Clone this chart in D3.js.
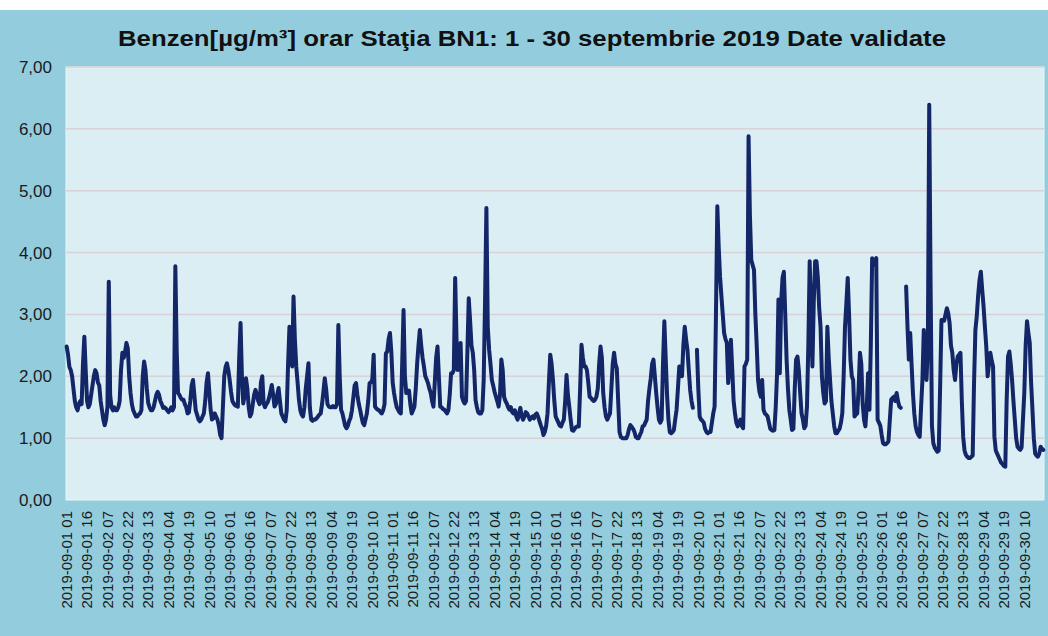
<!DOCTYPE html>
<html>
<head>
<meta charset="utf-8">
<script src="https://cdn.jsdelivr.net/npm/d3@7"></script>
<style>
  html, body { margin: 0; padding: 0; background: #fff; }
  svg { display: block; font-family: "Liberation Sans", Arial, sans-serif; }
</style>
</head>
<body>
<svg id="chart" width="1048" height="636"></svg>
<script>
(function () {
  "use strict";

  // hourly benzene values, one line per day (01..24 h)
  const days01to05 = [
    2.48, 2.35, 2.15, 2.1, 2.0, 1.8, 1.6, 1.5, 1.45, 1.55, 1.6, 1.55, 2.2, 2.64, 2.1, 1.6, 1.5, 1.55, 1.7, 1.85, 2.0, 2.1, 2.05, 1.9,
    1.85, 1.6, 1.45, 1.3, 1.21, 1.3, 1.5, 3.53, 1.7, 1.5, 1.45, 1.5, 1.45, 1.45, 1.5, 1.6, 2.1, 2.38, 2.3, 2.4, 2.54, 2.45, 2.0, 1.73,
    1.55, 1.45, 1.4, 1.35, 1.35, 1.38, 1.4, 1.45, 2.0, 2.24, 2.1, 1.8, 1.57, 1.5, 1.45, 1.45, 1.5, 1.6, 1.7, 1.75, 1.7, 1.6, 1.55, 1.49,
    1.5, 1.48, 1.45, 1.42, 1.45, 1.5, 1.45, 1.5, 3.78, 2.4, 1.73, 1.7, 1.65, 1.62, 1.62, 1.55, 1.5, 1.4, 1.42, 1.6, 1.85, 1.94, 1.7, 1.45,
    1.38, 1.3, 1.27, 1.3, 1.35, 1.4, 1.6, 1.9, 2.05, 1.75, 1.45, 1.3, 1.32, 1.4, 1.35, 1.3, 1.2, 1.05, 1.0, 1.5, 2.0, 2.15, 2.21, 2.1
  ];
  const days06to10 = [
    1.94, 1.75, 1.6, 1.56, 1.53, 1.52, 1.51, 2.3, 2.86, 2.0, 1.56, 1.7, 1.97, 1.8, 1.5, 1.35, 1.4, 1.55, 1.7, 1.78, 1.7, 1.6, 1.55, 1.9,
    2.0, 1.56, 1.5, 1.55, 1.58, 1.65, 1.75, 1.86, 1.7, 1.51, 1.55, 1.7, 1.81, 1.6, 1.4, 1.35, 1.3, 1.27, 1.45, 2.2, 2.8, 2.4, 2.16, 3.29,
    2.6, 2.16, 1.9, 1.62, 1.45, 1.38, 1.35, 1.5, 1.8, 2.0, 2.21, 1.5, 1.3, 1.28, 1.3, 1.3, 1.32, 1.35, 1.38, 1.4, 1.55, 1.75, 1.97, 1.8,
    1.55, 1.51, 1.5, 1.5, 1.52, 1.5, 1.5, 1.55, 2.83, 2.0, 1.46, 1.4, 1.3, 1.2, 1.16, 1.2, 1.28, 1.33, 1.45, 1.65, 1.85, 1.89, 1.7, 1.56,
    1.46, 1.35, 1.25, 1.21, 1.3, 1.4, 1.6, 1.89, 1.9, 1.95, 2.35, 1.51, 1.48, 1.46, 1.45, 1.42, 1.4, 1.45, 1.55, 2.37, 2.4, 2.6, 2.7, 2.4
  ];
  const days11to15 = [
    1.9, 1.73, 1.6, 1.5, 1.46, 1.42, 1.4, 2.2, 3.07, 2.0, 1.73, 1.75, 1.77, 1.55, 1.4, 1.45, 1.51, 1.8, 2.2, 2.5, 2.75, 2.5, 2.3, 2.16,
    2.0, 1.95, 1.89, 1.8, 1.73, 1.6, 1.51, 1.9, 2.3, 2.48, 2.0, 1.51, 1.5, 1.47, 1.46, 1.43, 1.4, 1.45, 1.7, 2.05, 2.05, 2.1, 3.59, 2.6,
    2.1, 2.3, 2.54, 1.67, 1.6, 1.56, 1.6, 2.4, 3.26, 2.9, 2.5, 2.38, 2.1, 1.62, 1.5, 1.42, 1.4, 1.4, 1.45, 1.94, 3.2, 4.72, 2.8, 2.43,
    2.2, 1.94, 1.85, 1.75, 1.67, 1.6, 1.51, 1.7, 2.27, 2.1, 1.67, 1.6, 1.56, 1.5, 1.46, 1.5, 1.42, 1.4, 1.45, 1.35, 1.3, 1.4, 1.49, 1.35,
    1.3, 1.35, 1.42, 1.4, 1.35, 1.3, 1.33, 1.35, 1.32, 1.38, 1.4, 1.35, 1.28, 1.21, 1.15, 1.05, 1.1, 1.2, 1.4, 1.9, 2.35, 2.2, 1.94, 1.6
  ];
  const days16to20 = [
    1.35, 1.3, 1.25, 1.2, 1.19, 1.25, 1.3, 1.6, 2.02, 1.7, 1.51, 1.3, 1.13, 1.12, 1.15, 1.18, 1.19, 1.19, 1.8, 2.51, 2.3, 2.16, 2.16, 2.1,
    1.9, 1.67, 1.65, 1.62, 1.6, 1.62, 1.67, 1.8, 2.2, 2.48, 2.3, 1.73, 1.5, 1.35, 1.3, 1.35, 1.4, 1.8, 2.2, 2.38, 2.2, 2.13, 1.6, 1.1,
    1.02, 1.0, 1.0, 1.0, 1.0, 1.05, 1.15, 1.21, 1.18, 1.15, 1.1, 1.02, 1.0, 1.0, 1.05, 1.1, 1.19, 1.2, 1.25, 1.3, 1.6, 1.8, 1.97, 2.2,
    2.27, 2.0, 1.73, 1.5, 1.3, 1.25, 1.3, 2.2, 2.89, 2.3, 1.7, 1.3, 1.1, 1.08, 1.1, 1.13, 1.3, 1.46, 1.8, 2.16, 2.16, 2.0, 2.5, 2.8,
    2.6, 2.43, 2.1, 1.78, 1.6, 1.49, null, null, 2.43, 1.8, 1.35, 1.3, 1.28, 1.25, 1.15, 1.1, 1.08, 1.1, 1.1, 1.25, 1.4, 1.51, 3.0, 4.75
  ];
  const days21to25 = [
    4.1, 3.61, 3.3, 3.0, 2.7, 2.6, 2.54, 1.89, 2.2, 2.59, 2.1, 1.6, 1.4, 1.25, 1.19, 1.25, 1.3, 1.2, 1.16, 2.16, 2.2, 2.27, 5.88, 4.6,
    3.88, 3.8, 3.72, 3.0, 2.5, 1.94, 1.75, 1.67, 1.94, 1.46, 1.4, 1.38, 1.35, 1.25, 1.15, 1.13, 1.12, 1.13, 1.5, 2.05, 3.24, 2.05, 3.2, 3.59,
    3.69, 3.0, 2.27, 1.8, 1.46, 1.3, 1.13, 1.15, 1.8, 2.27, 2.32, 2.1, 1.73, 1.4, 1.3, 1.16, 1.2, 1.51, 2.5, 3.86, 3.0, 2.16, 3.2, 3.86,
    3.86, 3.6, 3.1, 2.8, 2.0, 1.73, 1.56, 1.6, 2.8, 2.3, 1.94, 1.6, 1.4, 1.2, 1.08, 1.08, 1.12, 1.15, 1.25, 1.4, 2.0, 2.8, 3.18, 3.59,
    3.0, 2.27, 2.0, 1.94, 1.35, 1.38, 1.4, 1.8, 2.38, 2.2, 1.56, 1.3, 1.19, 1.5, 2.05, 1.46, 2.5, 3.91, 3.8, 3.85, 3.91, 1.3, 1.25, 1.2
  ];
  const days26to30 = [
    1.05, 0.92, 0.9, 0.9, 0.92, 0.95, 1.3, 1.62, 1.65, 1.67, 1.6, 1.73, 1.6, 1.51, 1.49, null, null, null, 3.45, 2.8, 2.27, 2.7, 2.2, 1.73,
    1.4, 1.19, 1.1, 1.05, 1.02, 1.5, 1.94, 2.75, 2.3, 1.94, 2.5, 6.39, 3.5, 1.2, 0.92, 0.85, 0.81, 0.78, 0.8, 1.8, 2.91, 2.91, 2.9, 3.0,
    3.1, 3.02, 2.86, 2.5, 2.38, 2.1, 1.94, 2.2, 2.32, 2.35, 2.38, 1.6, 1.02, 0.8, 0.73, 0.7, 0.68, 0.68, 0.7, 0.72, 1.9, 2.75, 2.97, 3.3,
    3.55, 3.69, 3.4, 3.13, 2.8, 2.48, 2.0, 2.2, 2.38, 2.25, 2.16, 1.02, 0.8, 0.75, 0.7, 0.65, 0.6, 0.58, 0.55, 0.54, 1.6, 2.32, 2.4, 2.2,
    1.94, 1.6, 1.3, 1.0, 0.86, 0.83, 0.81, 0.85, 1.3, 1.73, 2.5, 2.89, 2.7, 2.54, 1.9, 1.46, 1.0, 0.75, 0.72, 0.7, 0.75, 0.86, 0.83, 0.81
  ];

  const values = [].concat(days01to05, days06to10, days11to15, days16to20, days21to25, days26to30);

  const pad = (n) => String(n).padStart(2, "0");
  const hours = values.map((v, i) => `2019-09-${pad(Math.floor(i / 24) + 1)} ${pad((i % 24) + 1)}`);
  const tickLabels = hours.filter((h, i) => i % 15 === 0);
  const yTicks = [0, 1, 2, 3, 4, 5, 6, 7];

  const title = "Benzen[µg/m³] orar Staţia BN1: 1 - 30 septembrie 2019 Date validate";

  const svg = d3.select("#chart");
  const W = 1048, H = 636;
  const plot = { left: 66, right: 1044, top: 67, bottom: 500 };

  svg.append("rect").attr("x", 0).attr("y", 10).attr("width", W).attr("height", H - 10)
    .attr("fill", "#93cddd");

  svg.append("rect")
    .attr("x", plot.left).attr("y", plot.top)
    .attr("width", plot.right - plot.left).attr("height", plot.bottom - plot.top)
    .attr("fill", "#dbeef3").attr("stroke", "#e9f5f8").attr("stroke-width", 1);

  svg.append("text")
    .attr("x", 532).attr("y", 46)
    .attr("text-anchor", "middle")
    .attr("font-size", 22).attr("font-weight", "bold").attr("fill", "#111")
    .attr("textLength", 828).attr("lengthAdjust", "spacingAndGlyphs")
    .text(title);

  const x = d3.scaleBand().domain(hours).range([plot.left, plot.right]);
  const y = d3.scaleLinear().domain([0, 7]).range([plot.bottom, plot.top]);

  // grid
  svg.append("g").selectAll("line").data(yTicks.slice(1)).join("line")
    .attr("x1", plot.left).attr("x2", plot.right)
    .attr("y1", (d) => y(d)).attr("y2", (d) => y(d))
    .attr("stroke", "#d8d2d8").attr("stroke-width", 1.5);

  const yAxis = svg.append("g")
    .attr("transform", `translate(${plot.left},0)`)
    .call(d3.axisLeft(y).tickValues(yTicks).tickSize(0).tickPadding(14)
      .tickFormat((d) => d3.format(".2f")(d).replace(".", ",")));
  yAxis.select(".domain").remove();
  yAxis.selectAll("text").attr("font-size", 17).attr("fill", "#1a1a1a")
    .attr("font-family", "'Liberation Sans', Arial, sans-serif");

  const xAxis = svg.append("g")
    .attr("transform", `translate(0,${plot.bottom})`)
    .call(d3.axisBottom(x).tickValues(tickLabels).tickSize(0));
  xAxis.select(".domain").remove();
  xAxis.selectAll("text")
    .attr("font-size", 15).attr("fill", "#1a1a1a")
    .attr("font-family", "'Liberation Sans', Arial, sans-serif")
    .attr("text-anchor", "end")
    .attr("dy", "0.35em")
    .attr("transform", "translate(0,11) rotate(-90)")
    .attr("x", 0).attr("y", 0);

  const line = d3.line()
    .defined((d) => d != null)
    .x((d, i) => x(hours[i]) + x.bandwidth() / 2)
    .y((d) => y(d));

  svg.append("path")
    .datum(values)
    .attr("fill", "none")
    .attr("stroke", "#132668")
    .attr("stroke-width", 4)
    .attr("stroke-linejoin", "round")
    .attr("stroke-linecap", "round")
    .attr("d", line);
})();
</script>
</body>
</html>
